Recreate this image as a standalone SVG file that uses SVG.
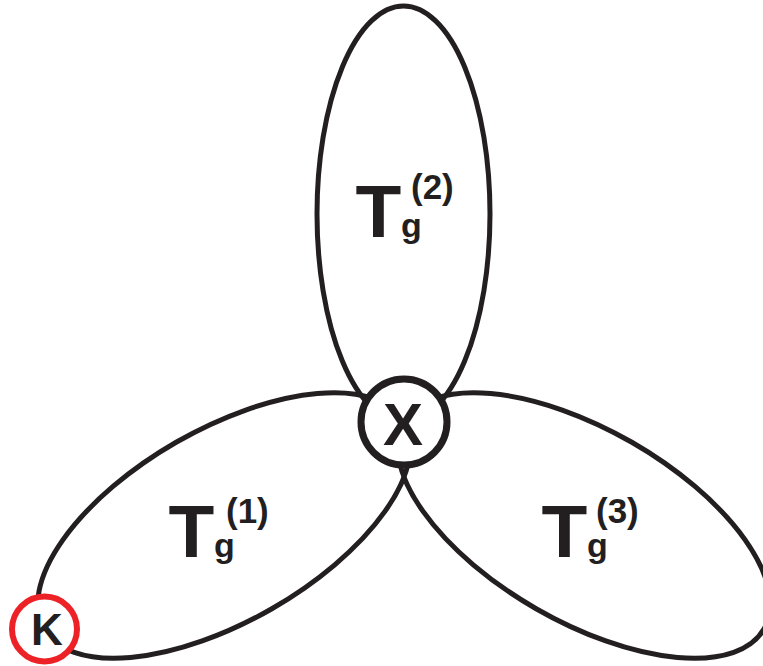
<svg xmlns="http://www.w3.org/2000/svg" width="763" height="666" viewBox="0 0 763 666">
<style>
.petal{fill:none;stroke:#231f20;stroke-width:5}
.lbl{font-family:"Liberation Sans",Arial,sans-serif;font-weight:bold;fill:#231f20}
.big{font-size:75px}
.sub{font-size:34px}
.sup{font-size:35px}
</style>
<rect width="763" height="666" fill="#ffffff"/>
<g id="petal2">
<ellipse class="petal" cx="403.5" cy="214" rx="86.5" ry="208"/>
<text class="lbl big" x="355.5" y="237">T</text>
<text class="lbl sub" x="401" y="237">g</text>
<text class="lbl sup" x="411" y="199">(2)</text>
</g>
<g id="petal1">
<ellipse class="petal" cx="224" cy="525.5" rx="207.6" ry="96" transform="rotate(-29.9 224 525.5)"/>
<text class="lbl big" x="168.5" y="557">T</text>
<text class="lbl sub" x="214" y="557">g</text>
<text class="lbl sup" x="226" y="523">(1)</text>
</g>
<g id="petal3">
<ellipse class="petal" cx="584" cy="525.5" rx="207.6" ry="96" transform="rotate(29.9 584 525.5)"/>
<text class="lbl big" x="541.5" y="557">T</text>
<text class="lbl sub" x="587" y="557">g</text>
<text class="lbl sup" x="596" y="523">(3)</text>
</g>
<g id="connectors"></g>
<g id="nodeX">
<circle cx="404" cy="422" r="43" fill="#ffffff" stroke="#231f20" stroke-width="7"/>
<text class="lbl" x="403" y="445" font-size="60" text-anchor="middle">X</text>
</g>
<g id="nodeK">
<circle cx="44.5" cy="629" r="32.5" fill="#ffffff" stroke="#ec2227" stroke-width="6"/>
<text class="lbl" x="47" y="645" font-size="44" text-anchor="middle">K</text>
</g>
</svg>
